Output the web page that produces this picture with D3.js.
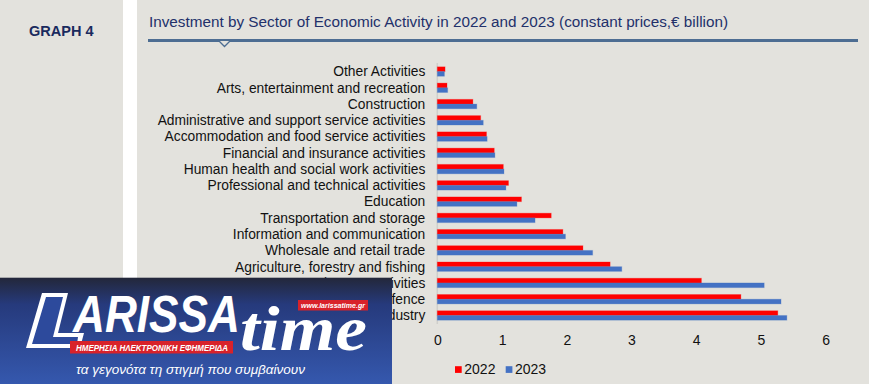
<!DOCTYPE html>
<meta charset="utf-8">
<script src="https://d3js.org/d3.v7.min.js"></script>
<style>
body { margin: 0; background: #fff; }
svg { display: block; font-family: "Liberation Sans", Arial, sans-serif; }
</style>
<body>
<script>

// sectors, top to bottom as drawn
var categories = [
    "Other Activities",
    "Arts, entertainment and recreation",
    "Construction",
    "Administrative and support service activities",
    "Accommodation and food service activities",
    "Financial and insurance activities",
    "Human health and social work activities",
    "Professional and technical activities",
    "Education",
    "Transportation and storage",
    "Information and communication",
    "Wholesale and retail trade",
    "Agriculture, forestry and fishing",
    "Real estate activities",
    "Public administration and defence",
    "Industry"
];
var values2022 = [0.12, 0.15, 0.55, 0.67, 0.76, 0.88, 1.02, 1.10, 1.30, 1.76, 1.94, 2.25, 2.67, 4.08, 4.69, 5.26];
var values2023 = [0.11, 0.16, 0.61, 0.71, 0.77, 0.89, 1.03, 1.06, 1.23, 1.51, 1.98, 2.40, 2.85, 5.05, 5.31, 5.40];
var xTicks = [0, 1, 2, 3, 4, 5, 6];
var seriesNames = ["2022", "2023"];
var seriesColors = ["#ff0000", "#4472c4"];

var W = 872, H = 384;
var bg = "#e3e2dd";

var svg = d3.select("body").append("svg")
    .attr("width", W)
    .attr("height", H);

// panels
svg.append("rect").attr("x", 0).attr("y", 0).attr("width", W).attr("height", H).attr("fill", "#fff");
svg.append("rect").attr("x", 0).attr("y", 0).attr("width", 123).attr("height", H).attr("fill", bg);
svg.append("rect").attr("x", 137).attr("y", 0).attr("width", 732).attr("height", H).attr("fill", bg);

svg.append("text")
    .attr("x", 29).attr("y", 36)
    .attr("font-size", 14.5).attr("font-weight", "bold")
    .attr("fill", "#1a2a5e")
    .text("GRAPH 4");

svg.append("text")
    .attr("x", 149).attr("y", 26.5)
    .attr("font-size", 15.5)
    .attr("fill", "#22306a")
    .attr("textLength", 579).attr("lengthAdjust", "spacingAndGlyphs")
    .text("Investment by Sector of Economic Activity in 2022 and 2023 (constant prices,\u20ac billion)");

// underline with small notch
svg.append("line")
    .attr("x1", 148).attr("x2", 858).attr("y1", 40.5).attr("y2", 40.5)
    .attr("stroke", "#4d6d92").attr("stroke-width", 3);
svg.append("path")
    .attr("d", "M219,41 L224.5,46.5 L230,41")
    .attr("fill", bg).attr("stroke", "#4d6d92").attr("stroke-width", 1.3);

// scales
var x = d3.scaleLinear().domain([0, 6]).range([437.3, 825.7]);
var y = d3.scaleBand().domain(categories).range([63.4, 323.6]);
var barH = 4.7;

svg.append("line")
    .attr("x1", x(0)).attr("x2", x(0)).attr("y1", 63).attr("y2", 324)
    .attr("stroke", "#cfcfcb").attr("stroke-width", 1.5);

var rows = svg.selectAll(".row")
    .data(categories)
    .enter().append("g")
    .attr("class", "row")
    .attr("transform", function(d) { return "translate(0," + (y(d) + y.bandwidth() / 2) + ")"; });

rows.append("text")
    .attr("x", 425.3).attr("dy", "0.35em")
    .attr("text-anchor", "end")
    .attr("font-size", 13.8)
    .attr("fill", "#111")
    .text(function(d) { return d; });

[values2022, values2023].forEach(function(vals, k) {
    rows.append("rect")
        .attr("x", x(0))
        .attr("y", k == 0 ? -barH : 0)
        .attr("width", function(d, i) { return x(vals[i]) - x(0); })
        .attr("height", barH)
        .attr("fill", seriesColors[k])
        .attr("stroke", seriesColors[k])
        .attr("stroke-opacity", 0.25)
        .attr("stroke-width", 1);
});

// x axis labels
var xAxis = svg.append("g")
    .attr("transform", "translate(0,340)")
    .call(d3.axisBottom(x).tickValues(xTicks).tickSize(0).tickPadding(0).tickFormat(d3.format("d")));
xAxis.select(".domain").remove();
xAxis.selectAll("text")
    .attr("font-size", 14).attr("font-family", "Liberation Sans, Arial, sans-serif")
    .attr("fill", "#111").attr("dy", "0.35em").attr("y", 0);

// legend
var legend = svg.append("g").attr("transform", "translate(455,369.5)");
var lx = [0, 50.7];
seriesNames.forEach(function(name, k) {
    legend.append("rect")
        .attr("x", lx[k]).attr("y", -3.3).attr("width", 6.7).attr("height", 6.7)
        .attr("fill", seriesColors[k]);
    legend.append("text")
        .attr("x", lx[k] + 9.3).attr("dy", "0.35em")
        .attr("font-size", 14).attr("fill", "#111")
        .text(name);
});

// newspaper watermark over bottom-left corner
var defs = svg.append("defs");
var grad = defs.append("linearGradient").attr("id", "logoGrad")
    .attr("x1", 0).attr("y1", 0).attr("x2", 0).attr("y2", 1);
grad.append("stop").attr("offset", "0").attr("stop-color", "#23273a");
grad.append("stop").attr("offset", "0.25").attr("stop-color", "#263a7c");
grad.append("stop").attr("offset", "1").attr("stop-color", "#3558ae");

var logo = svg.append("g");
logo.append("rect")
    .attr("x", 0).attr("y", 277.7).attr("width", 392).attr("height", H - 277.7)
    .attr("fill", "url(#logoGrad)");
// hollow slanted L
logo.append("path")
    .attr("d", "M42,293 L68,293 L58,333 L84,333 L80,348 L26,348 Z")
    .attr("fill", "#fff");
logo.append("path")
    .attr("d", "M46,297 L63,297 L53,337 L78,337 L77,344 L32,344 Z")
    .attr("fill", "#2d4a9c");
logo.append("text")
    .attr("x", 73).attr("y", 332)
    .attr("font-size", 52).attr("font-weight", "bold").attr("font-style", "italic")
    .attr("fill", "#fff")
    .attr("textLength", 167).attr("lengthAdjust", "spacingAndGlyphs")
    .text("ARISSA");
logo.append("rect")
    .attr("x", 70).attr("y", 341).attr("width", 163).attr("height", 12.5)
    .attr("fill", "#d8222a");
logo.append("text")
    .attr("x", 76).attr("y", 350.5)
    .attr("font-size", 9.5).attr("font-weight", "bold").attr("font-style", "italic")
    .attr("fill", "#fff")
    .attr("textLength", 152).attr("lengthAdjust", "spacingAndGlyphs")
    .text("ΗΜΕΡΗΣΙΑ ΗΛΕΚΤΡΟΝΙΚΗ ΕΦΗΜΕΡΙΔΑ");
logo.append("text")
    .attr("x", 240).attr("y", 350)
    .attr("font-size", 64).attr("font-style", "italic").attr("font-weight", "bold")
    .attr("font-family", "Liberation Serif, DejaVu Serif, serif")
    .attr("fill", "#fff")
    .attr("textLength", 127).attr("lengthAdjust", "spacingAndGlyphs")
    .text("time");
logo.append("rect")
    .attr("x", 298).attr("y", 300).attr("width", 70).attr("height", 10.5)
    .attr("fill", "#d8222a");
logo.append("text")
    .attr("x", 301).attr("y", 308)
    .attr("font-size", 8).attr("font-weight", "bold").attr("font-style", "italic")
    .attr("fill", "#fff")
    .attr("textLength", 64).attr("lengthAdjust", "spacingAndGlyphs")
    .text("www.larissatime.gr");
logo.append("text")
    .attr("x", 76).attr("y", 373.5)
    .attr("font-size", 13).attr("font-style", "italic")
    .attr("fill", "#fff")
    .attr("textLength", 229).attr("lengthAdjust", "spacingAndGlyphs")
    .text("τα γεγονότα τη στιγμή που συμβαίνουν");

</script>
</body>
</html>
